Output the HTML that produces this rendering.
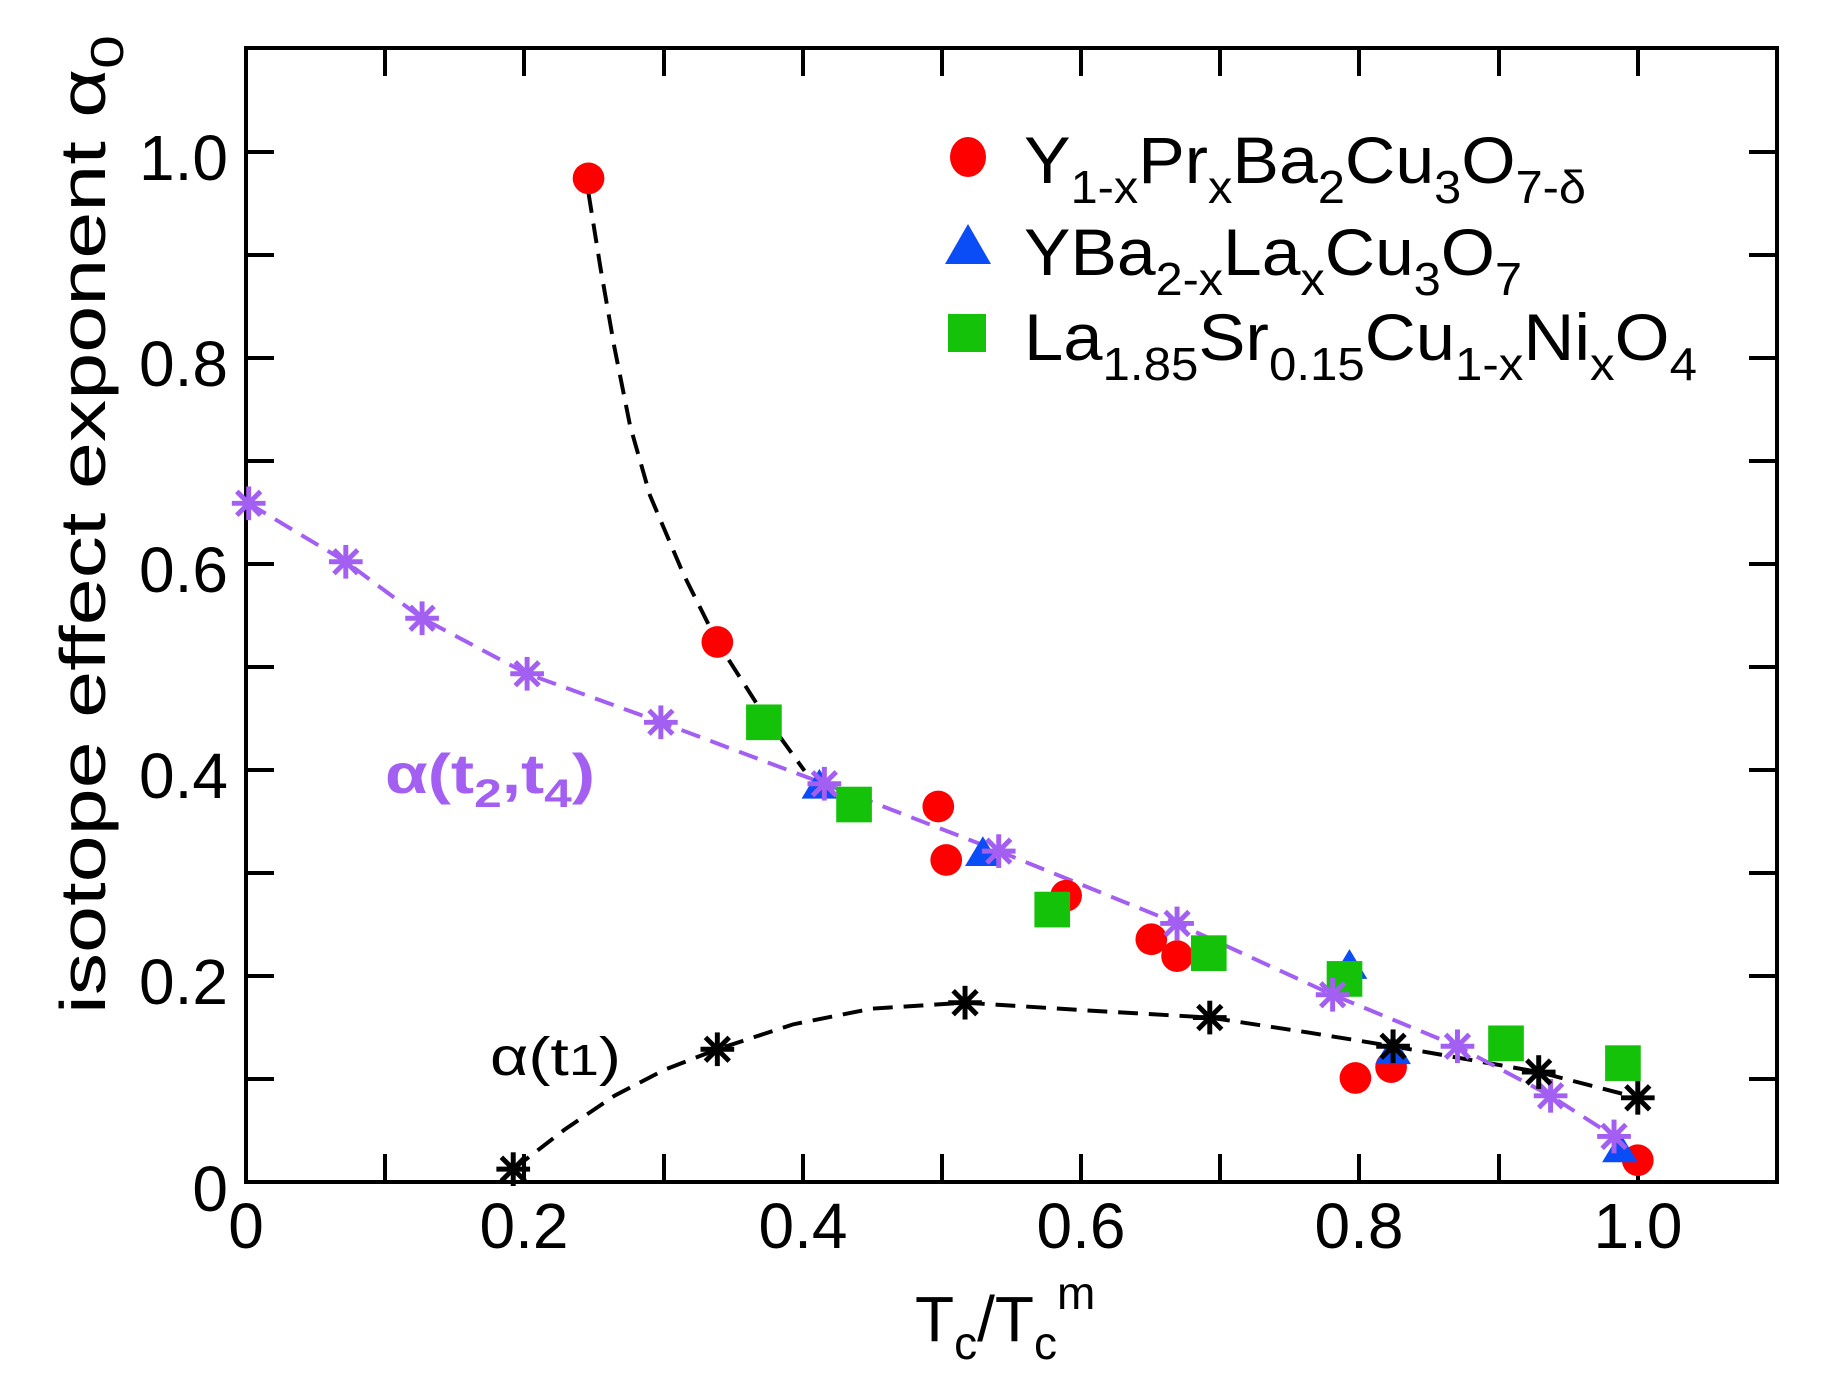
<!DOCTYPE html>
<html><head><meta charset="utf-8"><style>html,body{margin:0;padding:0;background:#fff}svg{display:block}</style></head>
<body>
<svg width="1827" height="1398" viewBox="0 0 1827 1398" xmlns="http://www.w3.org/2000/svg" font-family="Liberation Sans, sans-serif">
<defs>
<g id="st"><line x1="-17" y1="0" x2="17" y2="0"/><line x1="0" y1="-17" x2="0" y2="17"/><line x1="-12" y1="-12" x2="12" y2="12"/><line x1="-12" y1="12" x2="12" y2="-12"/></g>
</defs>
<g stroke="#000" stroke-width="4" fill="none">
<rect x="246" y="48" width="1531" height="1134"/>
<path d="M246 1182v-28M385 1182v-28M524 1182v-28M664 1182v-28M803 1182v-28M942 1182v-28M1081 1182v-28M1220 1182v-28M1359 1182v-28M1499 1182v-28M1638 1182v-28
M385 48v28M524 48v28M664 48v28M803 48v28M942 48v28M1081 48v28M1220 48v28M1359 48v28M1499 48v28M1638 48v28"/>
<path d="M246 1079h28M246 976h28M246 873h28M246 770h28M246 667h28M246 564h28M246 461h28M246 358h28M246 255h28M246 152h28
M1777 1079h-28M1777 976h-28M1777 873h-28M1777 770h-28M1777 667h-28M1777 564h-28M1777 461h-28M1777 358h-28M1777 255h-28M1777 152h-28"/>
</g>
<g font-size="64" fill="#000">
<g text-anchor="end">
<text x="228" y="1211">0</text>
<text x="228" y="1004">0.2</text>
<text x="228" y="798">0.4</text>
<text x="228" y="592">0.6</text>
<text x="228" y="386">0.8</text>
<text x="228" y="180">1.0</text>
</g>
<g text-anchor="middle">
<text x="246" y="1248">0</text>
<text x="524" y="1248">0.2</text>
<text x="803" y="1248">0.4</text>
<text x="1081" y="1248">0.6</text>
<text x="1359" y="1248">0.8</text>
<text x="1638" y="1248">1.0</text>
</g>
<text x="915" y="1341">T<tspan font-size="46" dy="18">c</tspan><tspan dy="-18">/T</tspan><tspan font-size="46" dy="18">c</tspan><tspan font-size="46" dy="-50">m</tspan></text>
<text transform="translate(105,1014) rotate(-90)" textLength="979" lengthAdjust="spacingAndGlyphs">isotope effect exponent α<tspan font-size="46" dy="18">0</tspan></text>
</g>
<g transform="scale(0.9908)">
<g fill="none" stroke-width="4" stroke-dasharray="20,11">
<polyline stroke="#000" points="594,195 606,270 620,350 636,430 656,500 690,580 724,648 770,720 812,778"/>
<polyline stroke="#000" points="518,1180 570,1140 620,1106 670,1080 724,1059 800,1034 880,1018 974,1012 1100,1020 1221,1027 1320,1042 1406,1056 1480,1069 1553,1082 1653,1108"/>
<polyline stroke="#a35ef2" points="251,508 349,567 426,624 532,680 667,729 832,791 1008,859 1188,932 1345,1004 1471,1056 1565,1106 1629,1147"/>
</g>
<g fill="#f00">
<circle cx="594" cy="180" r="16"/><circle cx="724" cy="648" r="16"/><circle cx="947" cy="814" r="16"/><circle cx="955" cy="868" r="16"/><circle cx="1076" cy="904" r="16"/><circle cx="1162" cy="948" r="16"/><circle cx="1188" cy="965" r="16"/><circle cx="1368" cy="1088" r="16"/><circle cx="1404" cy="1077" r="16"/><circle cx="1653" cy="1171" r="16"/>
</g>
<g fill="#0a4cf5">
<polygon points="827,776 845,806 809,806"/><polygon points="992,844 1010,874 974,874"/><polygon points="1362,958 1380,988 1344,988"/><polygon points="1406,1044 1424,1074 1388,1074"/><polygon points="1635,1143 1653,1173 1617,1173"/>
</g>
<g fill="#15c20a">
<rect x="753" y="711" width="36" height="36"/><rect x="844" y="794" width="36" height="36"/><rect x="1044" y="900" width="36" height="36"/><rect x="1202" y="944" width="36" height="36"/><rect x="1339" y="970" width="36" height="36"/><rect x="1502" y="1035" width="36" height="36"/><rect x="1620" y="1055" width="36" height="36"/>
</g>
<g stroke="#a35ef2" stroke-width="5">
<use href="#st" x="251" y="508"/><use href="#st" x="349" y="567"/><use href="#st" x="426" y="624"/><use href="#st" x="532" y="680"/><use href="#st" x="667" y="729"/><use href="#st" x="832" y="791"/><use href="#st" x="1008" y="859"/><use href="#st" x="1188" y="932"/><use href="#st" x="1345" y="1004"/><use href="#st" x="1471" y="1056"/><use href="#st" x="1565" y="1106"/><use href="#st" x="1629" y="1147"/>
</g>
<g stroke="#000" stroke-width="5">
<use href="#st" x="518" y="1180"/><use href="#st" x="724" y="1059"/><use href="#st" x="974" y="1012"/><use href="#st" x="1221" y="1027"/><use href="#st" x="1406" y="1056"/><use href="#st" x="1553" y="1082"/><use href="#st" x="1653" y="1108"/>
</g>
</g>
<text x="385" y="793" font-size="56" fill="#a35ef2" font-weight="bold" textLength="210" lengthAdjust="spacingAndGlyphs">α(t<tspan font-size="40" dy="14">2</tspan><tspan dy="-14">,t</tspan><tspan font-size="40" dy="14">4</tspan><tspan dy="-14">)</tspan></text>
<text x="490" y="1075" font-size="54" fill="#000" textLength="131" lengthAdjust="spacingAndGlyphs">α(t<tspan font-size="44">1</tspan>)</text>
<ellipse cx="968" cy="157" rx="18" ry="20" fill="#f00"/>
<polygon points="968,224 991,264 945,264" fill="#0a4cf5"/>
<rect x="948" y="314" width="38" height="38" fill="#15c20a"/>
<g font-size="66" fill="#000">
<text x="1024" y="183" textLength="562" lengthAdjust="spacingAndGlyphs">Y<tspan font-size="46" dy="20">1-x</tspan><tspan dy="-20">Pr</tspan><tspan font-size="46" dy="20">x</tspan><tspan dy="-20">Ba</tspan><tspan font-size="46" dy="20">2</tspan><tspan dy="-20">Cu</tspan><tspan font-size="46" dy="20">3</tspan><tspan dy="-20">O</tspan><tspan font-size="46" dy="20">7-δ</tspan></text>
<text x="1024" y="275" textLength="498" lengthAdjust="spacingAndGlyphs">YBa<tspan font-size="46" dy="20">2-x</tspan><tspan dy="-20">La</tspan><tspan font-size="46" dy="20">x</tspan><tspan dy="-20">Cu</tspan><tspan font-size="46" dy="20">3</tspan><tspan dy="-20">O</tspan><tspan font-size="46" dy="20">7</tspan></text>
<text x="1024" y="360" textLength="673" lengthAdjust="spacingAndGlyphs">La<tspan font-size="46" dy="20">1.85</tspan><tspan dy="-20">Sr</tspan><tspan font-size="46" dy="20">0.15</tspan><tspan dy="-20">Cu</tspan><tspan font-size="46" dy="20">1-x</tspan><tspan dy="-20">Ni</tspan><tspan font-size="46" dy="20">x</tspan><tspan dy="-20">O</tspan><tspan font-size="46" dy="20">4</tspan></text>
</g>
</svg>
</body></html>
